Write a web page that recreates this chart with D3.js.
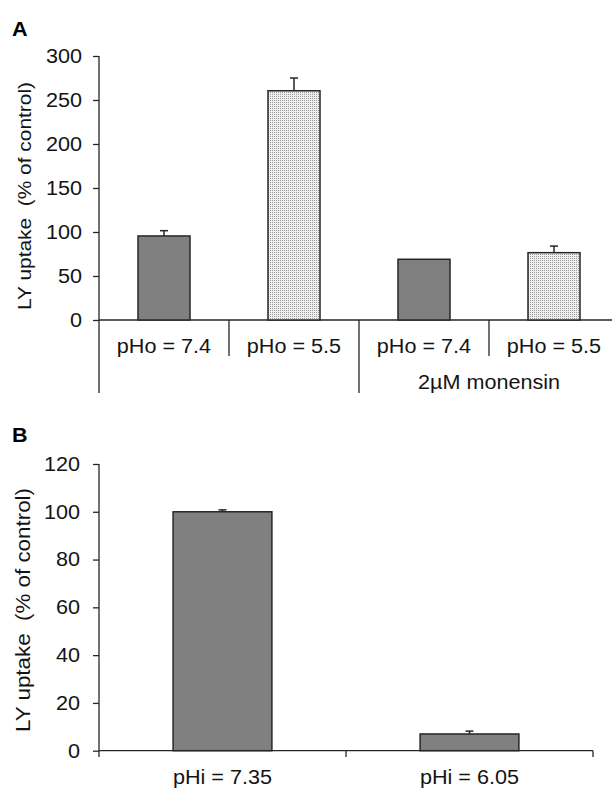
<!DOCTYPE html>
<html>
<head>
<meta charset="utf-8">
<script src="https://cdn.jsdelivr.net/npm/d3@7"></script>
<style>
  html, body { margin: 0; padding: 0; background: #fff; }
  svg { display: block; font-family: "Liberation Sans", Arial, Helvetica, sans-serif; }
</style>
</head>
<body>
<svg id="chart" width="612" height="789"></svg>
<script>
// ---------- Data ----------
const categoriesA = ["pHo = 7.4", "pHo = 5.5", "pHo = 7.4", "pHo = 5.5"];
const groupLabelsA = ["", "2µM monensin"];
const valuesA = [95.5, 260.5, 69, 76.5];
const errorsA = [6, 14.5, 0, 7.5];
const fillsA = ["solid", "dotted", "solid", "dotted"];
const ticksA = [0, 50, 100, 150, 200, 250, 300];

const categoriesB = ["pHi = 7.35", "pHi = 6.05"];
const valuesB = [100, 7];
const errorsB = [0.8, 1.2];
const ticksB = [0, 20, 40, 60, 80, 100, 120];

const yTitle = "LY uptake  (% of control)";

// ---------- Setup ----------
const svg = d3.select("#chart");
const ink = "#262626";
const txt = "#141414";
const stretch = 1.08;
const defs = svg.append("defs");
const pat = defs.append("pattern").attr("id", "dots")
  .attr("patternUnits", "userSpaceOnUse").attr("width", 2).attr("height", 2);
pat.append("rect").attr("width", 2).attr("height", 2).attr("fill", "#efefef");
pat.append("rect").attr("width", 1).attr("height", 1).attr("fill", "#9a9a9a");

function fillFor(f) { return f === "dotted" ? "url(#dots)" : "#808080"; }

function drawPanel(opts) {
  const g = svg.append("g");
  const x = d3.scaleBand().domain(d3.range(opts.cats.length))
    .range(opts.xRange).paddingInner(0.6).paddingOuter(0.3);
  const y = d3.scaleLinear().domain(opts.yDomain).range(opts.yRange);
  const step = x.step();
  const x0 = opts.xRange[0];

  // y axis
  const ax = g.append("g").attr("transform", `translate(${x0},0)`)
    .call(d3.axisLeft(y).tickValues(opts.ticks).tickSize(6).tickPadding(opts.tickPad).tickSizeOuter(0));
  ax.select(".domain").remove();
  ax.selectAll(".tick line").attr("stroke", ink).attr("stroke-width", 1.3);
  ax.selectAll(".tick text").attr("fill", txt).attr("class", "hz").style("font-size", opts.tickFont + "px")
    .style("font-family", '"Liberation Sans", Arial, sans-serif');

  // y axis line (extended below baseline)
  g.append("line").attr("x1", x0).attr("x2", x0)
    .attr("y1", y(opts.yDomain[1])).attr("y2", opts.axisBottom)
    .attr("stroke", ink).attr("stroke-width", 1.3);

  // x baseline
  g.append("line").attr("x1", x0).attr("x2", opts.xLineEnd)
    .attr("y1", y(0)).attr("y2", y(0)).attr("stroke", ink).attr("stroke-width", 1.3);

  // separators
  opts.separators.forEach(s => {
    g.append("line").attr("x1", x0 + s.i * step).attr("x2", x0 + s.i * step)
      .attr("y1", y(0)).attr("y2", s.end).attr("stroke", ink).attr("stroke-width", 1.3);
  });

  // bars
  g.selectAll("rect.bar").data(opts.vals).join("rect").attr("class", "bar")
    .attr("x", (d, i) => x(i)).attr("width", x.bandwidth())
    .attr("y", d => y(d)).attr("height", d => y(0) - y(d))
    .attr("fill", (d, i) => fillFor(opts.fills[i]))
    .attr("stroke", ink).attr("stroke-width", 1.5);

  // error bars
  opts.vals.forEach((v, i) => {
    const e = opts.errs[i];
    if (!e) return;
    const cx = x(i) + x.bandwidth() / 2;
    g.append("line").attr("x1", cx).attr("x2", cx).attr("y1", y(v)).attr("y2", y(v + e))
      .attr("stroke", ink).attr("stroke-width", 1.5);
    g.append("line").attr("x1", cx - 4).attr("x2", cx + 4).attr("y1", y(v + e)).attr("y2", y(v + e))
      .attr("stroke", ink).attr("stroke-width", 1.5);
  });

  // category labels
  g.selectAll("text.cat").data(opts.cats).join("text").attr("class", "cat hz")
    .attr("x", (d, i) => x(i) + x.bandwidth() / 2).attr("y", opts.catBaseline)
    .attr("text-anchor", "middle").style("font-size", opts.catFont + "px").attr("fill", txt)
    .text(d => d);

  // y title
  g.append("text")
    .attr("transform", `translate(${opts.titleX},${opts.titleCY}) rotate(-90)`)
    .attr("text-anchor", "middle").attr("xml:space", "preserve")
    .style("white-space", "pre")
    .style("font-size", opts.titleFont + "px").attr("fill", txt)
    .attr("textLength", opts.titleLen).attr("lengthAdjust", "spacingAndGlyphs")
    .text(yTitle);

  // panel letter
  g.append("text").attr("class", "hz").attr("x", opts.letterX).attr("y", opts.letterY)
    .style("font-size", "20px").style("font-weight", "bold").attr("fill", "#000")
    .text(opts.letter);

  return { g, x, y, step, x0 };
}

// Panel A
const pA = drawPanel({
  cats: categoriesA, vals: valuesA, errs: errorsA, fills: fillsA, ticks: ticksA,
  xRange: [99, 619], yDomain: [0, 300], yRange: [320, 56],
  tickPad: 11, tickFont: 20, catFont: 20, catBaseline: 352.5,
  axisBottom: 393, xLineEnd: 612,
  separators: [{ i: 1, end: 356 }, { i: 2, end: 393 }, { i: 3, end: 356 }],
  titleX: 31, titleCY: 196, titleFont: 19, titleLen: 228,
  letter: "A", letterX: 12, letterY: 36
});
// group label for the monensin group
groupLabelsA.forEach((lab, gi) => {
  if (!lab) return;
  const cx = pA.x0 + (gi * 2 + 1) * pA.step;
  pA.g.append("text").attr("class", "hz").attr("x", cx).attr("y", 389).attr("text-anchor", "middle")
    .style("font-size", "20px").attr("fill", txt).text(lab);
});

// Panel B
drawPanel({
  cats: categoriesB, vals: valuesB, errs: errorsB, fills: ["solid", "solid"], ticks: ticksB,
  xRange: [99, 593], yDomain: [0, 120], yRange: [750.7, 464],
  tickPad: 13, tickFont: 20, catFont: 20, catBaseline: 783.5,
  axisBottom: 757, xLineEnd: 593,
  separators: [{ i: 1, end: 757 }, { i: 2, end: 757 }],
  titleX: 30, titleCY: 610, titleFont: 20, titleLen: 244,
  letter: "B", letterX: 12, letterY: 442
});

// slight horizontal widening of horizontal texts, as in the original figure
svg.selectAll("text.hz").each(function () {
  const w = this.getComputedTextLength();
  d3.select(this).attr("textLength", w * stretch).attr("lengthAdjust", "spacingAndGlyphs");
});
</script>
</body>
</html>
